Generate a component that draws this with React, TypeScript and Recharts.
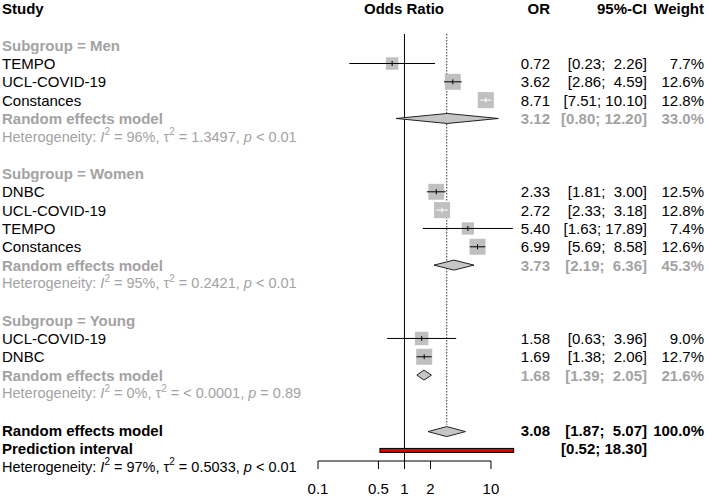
import { ComposedChart, XAxis, YAxis, Scatter } from "recharts";

const FONT = "'Liberation Sans', Arial, Helvetica, sans-serif";
const GRAY = "#a3a3a3";
const SQUARE = "#c0c0c0";
const DIAMOND = "#c6c6c6";

// individual studies, in plotting order
const studyNames = ["TEMPO", "UCL-COVID-19", "Constances", "DNBC", "UCL-COVID-19", "TEMPO", "Constances", "UCL-COVID-19", "DNBC"];
const studyGroups = ["Men", "Men", "Men", "Women", "Women", "Women", "Women", "Young", "Young"];
const studyOR = [0.72, 3.62, 8.71, 2.33, 2.72, 5.4, 6.99, 1.58, 1.69];
const studyLower = [0.23, 2.86, 7.51, 1.81, 2.33, 1.63, 5.69, 0.63, 1.38];
const studyUpper = [2.26, 4.59, 10.1, 3.0, 3.18, 17.89, 8.58, 3.96, 2.06];
const studyWeight = [7.7, 12.6, 12.8, 12.5, 12.8, 7.4, 12.6, 9.0, 12.7];

// subgroup random effects
const groupNames = ["Men", "Women", "Young"];
const groupOR = [3.12, 3.73, 1.68];
const groupLower = [0.8, 2.19, 1.39];
const groupUpper = [12.2, 6.36, 2.05];
const groupWeight = [33.0, 45.3, 21.6];
const groupI2 = [96, 95, 0];
const groupTau2 = ["1.3497", "0.2421", "< 0.0001"];
const groupP = ["< 0.01", "< 0.01", "= 0.89"];

// overall
const overallOR = 3.08;
const overallLower = 1.87;
const overallUpper = 5.07;
const predLower = 0.52;
const predUpper = 18.3;
const overallI2 = 97;
const overallTau2 = "0.5033";
const overallP = "< 0.01";

const axisTicks = [0.1, 0.5, 1, 2, 10];

const W = 708;
const H = 496;
const ROW0 = 8.5;
const ROW_H = 18.33;
const toRow = (px: number) => (px - ROW0) / ROW_H;
const PX_PER_DECADE = 86.5;

type Row = {
  row: number;
  kind: string;
  label?: string;
  or?: number;
  lo?: number;
  hi?: number;
  w?: number;
  i2?: number;
  tau?: string;
  p?: string;
};

const rows: Row[] = [{ row: 0, kind: "header" }];
let r = 2;
groupNames.forEach((g, gi) => {
  rows.push({ row: r++, kind: "group", label: `Subgroup = ${g}` });
  studyNames.forEach((name, si) => {
    if (studyGroups[si] !== g) return;
    rows.push({ row: r++, kind: "study", label: name, or: studyOR[si], lo: studyLower[si], hi: studyUpper[si], w: studyWeight[si] });
  });
  rows.push({ row: r++, kind: "sub", label: "Random effects model", or: groupOR[gi], lo: groupLower[gi], hi: groupUpper[gi], w: groupWeight[gi] });
  rows.push({ row: r++, kind: "het", i2: groupI2[gi], tau: groupTau2[gi], p: groupP[gi] });
  r++;
});
rows.push({ row: r++, kind: "overall", label: "Random effects model", or: overallOR, lo: overallLower, hi: overallUpper, w: 100 });
rows.push({ row: r++, kind: "pred", label: "Prediction interval", lo: predLower, hi: predUpper });
rows.push({ row: r++, kind: "hetAll", i2: overallI2, tau: overallTau2, p: overallP });

const rowMap = new Map(rows.map((x) => [x.row, x]));

const fmtCI = (lo: number, hi: number) => `[${lo.toFixed(2)}; ${hi.toFixed(2).padStart(5, " ")}]`;

const Het = ({ y, d, color }: { y: number; d: Row; color: string }) => (
  <text x={2} y={y} fontSize={14.5} fill={color} fontFamily={FONT} dominantBaseline="central" style={{ whiteSpace: "pre" }}>
    {"Heterogeneity: "}
    <tspan fontStyle="italic">I</tspan>
    <tspan dy={-5.5} fontSize={10}>2</tspan>
    <tspan dy={5.5}>{` = ${d.i2}%, \u03c4`}</tspan>
    <tspan dy={-5.5} fontSize={10}>2</tspan>
    <tspan dy={5.5}>{` = ${d.tau}, `}</tspan>
    <tspan fontStyle="italic">p</tspan>
    <tspan>{` ${d.p}`}</tspan>
  </text>
);

const RowText = (props: any) => {
  const y = props.y;
  const d = rowMap.get(props.payload.value);
  if (!d) return <g />;
  const t = { fontFamily: FONT, fontSize: 15, dominantBaseline: "central" as const, style: { whiteSpace: "pre" as const } };
  if (d.kind === "header") {
    return (
      <g fontWeight="bold" fill="#000">
        <text {...t} x={2} y={y}>Study</text>
        <text {...t} x={404} y={y} textAnchor="middle">Odds Ratio</text>
        <text {...t} x={550} y={y} textAnchor="end">OR</text>
        <text {...t} x={647} y={y} textAnchor="end">95%-CI</text>
        <text {...t} x={704} y={y} textAnchor="end">Weight</text>
      </g>
    );
  }
  if (d.kind === "group") {
    return <text {...t} x={2} y={y} fontWeight="bold" fill={GRAY}>{d.label}</text>;
  }
  if (d.kind === "het") return <Het y={y} d={d} color={GRAY} />;
  if (d.kind === "hetAll") return <Het y={y} d={d} color="#000" />;
  if (d.kind === "pred") {
    return (
      <g fontWeight="bold" fill="#000">
        <text {...t} x={2} y={y}>{d.label}</text>
        <text {...t} x={647} y={y} textAnchor="end">{fmtCI(d.lo!, d.hi!)}</text>
      </g>
    );
  }
  const bold = d.kind !== "study";
  const color = d.kind === "sub" ? GRAY : "#000";
  return (
    <g fontWeight={bold ? "bold" : "normal"} fill={color}>
      <text {...t} x={2} y={y}>{d.label}</text>
      <text {...t} x={550} y={y} textAnchor="end">{d.or!.toFixed(2)}</text>
      <text {...t} x={647} y={y} textAnchor="end">{fmtCI(d.lo!, d.hi!)}</text>
      <text {...t} x={704} y={y} textAnchor="end">{`${d.w!.toFixed(1)}%`}</text>
    </g>
  );
};

const Empty = () => <g />;

const studyRows = rows.filter((d) => d.kind === "study");
const diamondRows = rows.filter((d) => d.kind === "sub" || d.kind === "overall");
const predRow = rows.find((d) => d.kind === "pred")!;
const overallRow = rows.find((d) => d.kind === "overall")!;

const lineTop = toRow(34);
const axisRow = toRow(461);

export default function App() {
  return (
    <div style={{ width: W, height: H, background: "#fff" }}>
      <style>{"body{margin:0}"}</style>
      <ComposedChart width={W} height={H} margin={{ top: 0, right: 191, bottom: 0, left: 0 }}>
        <XAxis dataKey="x" type="number" scale="log" domain={[0.1, 20]} hide />
        <YAxis
          dataKey="y"
          type="number"
          domain={[toRow(0), toRow(H)]}
          reversed
          width={318}
          ticks={rows.map((d) => d.row)}
          interval={0}
          axisLine={false}
          tickLine={false}
          tick={RowText}
        />

        {/* no-effect line */}
        <Scatter
          data={[{ x: 1, y: lineTop }, { x: 1, y: axisRow }]}
          shape={Empty}
          isAnimationActive={false}
          line={(p: any) => (
            <line x1={p.points[0].x} y1={p.points[0].y} x2={p.points[1].x} y2={p.points[1].y} stroke="#000" strokeWidth={1} />
          )}
        />
        {/* overall estimate line */}
        <Scatter
          data={[{ x: overallOR, y: lineTop }, { x: overallOR, y: overallRow.row - 0.3 }]}
          shape={Empty}
          isAnimationActive={false}
          line={(p: any) => (
            <line x1={p.points[0].x} y1={p.points[0].y} x2={p.points[1].x} y2={p.points[1].y} stroke="#333" strokeWidth={1} strokeDasharray="1.5 1.5" />
          )}
        />

        {studyRows.map((s, i) => {
          const side = 4.5 * Math.sqrt(s.w!);
          const ciPx = Math.log10(s.hi! / s.lo!) * PX_PER_DECADE;
          const col = ciPx < side - 1 ? "#fff" : "#000";
          return (
            <Scatter
              key={`s${i}`}
              data={[{ x: s.lo, y: s.row }, { x: s.or, y: s.row }, { x: s.hi, y: s.row }]}
              shape={Empty}
              isAnimationActive={false}
              line={(p: any) => {
                const [a, b, c] = p.points;
                return (
                  <g>
                    <rect x={b.x - side / 2} y={b.y - side / 2} width={side} height={side} fill={SQUARE} />
                    <line x1={a.x} x2={c.x} y1={b.y} y2={b.y} stroke={col} strokeWidth={1} />
                    <line x1={b.x} x2={b.x} y1={b.y - 2.5} y2={b.y + 2.5} stroke={col} strokeWidth={1} />
                  </g>
                );
              }}
            />
          );
        })}

        {diamondRows.map((s, i) => (
          <Scatter
            key={`d${i}`}
            data={[{ x: s.lo, y: s.row }, { x: s.or, y: s.row }, { x: s.hi, y: s.row }]}
            shape={Empty}
            isAnimationActive={false}
            line={(p: any) => {
              const [a, b, c] = p.points;
              const yc = b.y + (s.kind === "overall" ? 1.5 : 0);
              return (
                <polygon
                  points={`${a.x},${yc} ${b.x},${yc - 5} ${c.x},${yc} ${b.x},${yc + 5}`}
                  fill={DIAMOND}
                  stroke="#222"
                  strokeWidth={1}
                />
              );
            }}
          />
        ))}

        <Scatter
          data={[{ x: predRow.lo, y: predRow.row }, { x: predRow.hi, y: predRow.row }]}
          shape={Empty}
          isAnimationActive={false}
          line={(p: any) => {
            const [a, c] = p.points;
            return <rect x={a.x} y={a.y} width={c.x - a.x} height={4} fill="#e00000" stroke="#000" strokeWidth={1} />;
          }}
        />

        {/* x axis */}
        <Scatter
          data={axisTicks.map((v) => ({ x: v, y: axisRow }))}
          isAnimationActive={false}
          line={(p: any) => {
            const pts = p.points;
            return <line x1={pts[0].x} x2={pts[pts.length - 1].x} y1={pts[0].y} y2={pts[0].y} stroke="#000" strokeWidth={1} />;
          }}
          shape={(p: any) => (
            <g>
              <line x1={p.cx} x2={p.cx} y1={p.cy} y2={p.cy + 8} stroke="#000" strokeWidth={1} />
              <text x={p.cx} y={p.cy + 27} textAnchor="middle" dominantBaseline="central" fontFamily={FONT} fontSize={15} fill="#000">
                {String(p.payload.x)}
              </text>
            </g>
          )}
        />
      </ComposedChart>
    </div>
  );
}
